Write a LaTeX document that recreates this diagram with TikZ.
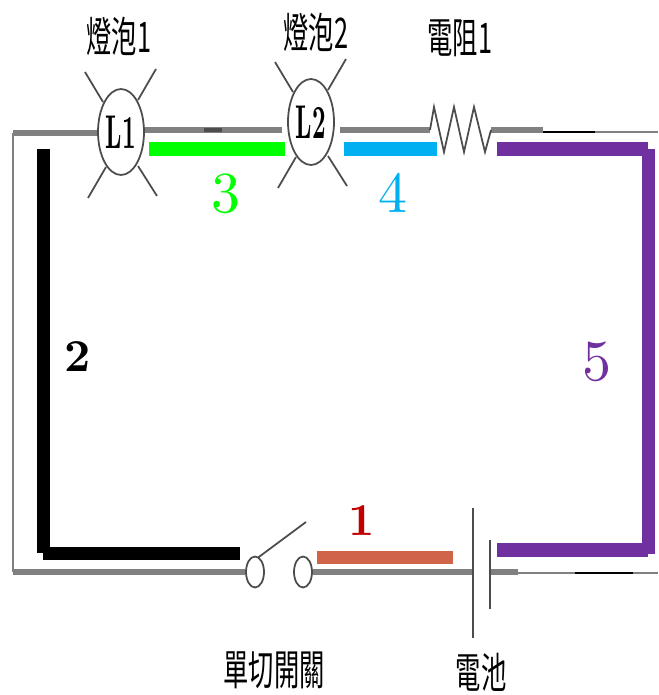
\documentclass[tikz,border=0pt]{standalone}
\usepackage{fontspec}
\usepackage{tikz}
\usetikzlibrary{%
	calc,%
	shapes.geometric
}
\newfontfamily\cjk{Noto Sans CJK TC}
\definecolor{seggreen}{HTML}{00FF00}
\definecolor{segblue}{HTML}{00B0F0}
\definecolor{segpurple}{HTML}{7030A0}
\definecolor{segorange}{HTML}{CF6449}
\definecolor{segred}{HTML}{C00000}
\tikzset{
	wire/.style={draw=black!50,line width=3.2pt},
	thinwire/.style={draw=black!50,line width=1.7pt},
	part/.style={draw=black!70,line width=1pt},
	seg/.style={line width=7.9pt},
	lamp/.style={ellipse,part,fill=white,minimum width=0.92cm,minimum height=1.72cm,inner sep=0pt,font=\fontsize{10}{10}\selectfont\bfseries},
	contact/.style={ellipse,part,fill=white,minimum width=0.36cm,minimum height=0.62cm,inner sep=0pt},
	cjklabel/.style={inner sep=0pt,xscale=.6,transform shape,font=\cjk\fontsize{24}{24}\selectfont},
	num/.style={inner sep=0pt,scale=3.3,transform shape,font=\fontsize{10}{10}\selectfont},
	boldnum/.style={inner sep=0pt,scale=2.6,transform shape,font=\fontsize{10}{10}\selectfont\bfseries}
}

\begin{document}
\begin{tikzpicture}[x=0.02cm,y=-0.02cm]
	\useasboundingbox (0,0) rectangle (658,695);

	% Wire corners and ends
	\coordinate (topleft) at (13,133);
	\coordinate (botleft) at (13,572);
	\coordinate (topright) at (658,132);
	\coordinate (botright) at (658,573);
	\coordinate (tapA) at (282,130);
	\coordinate (tapB) at (340,130);
	\coordinate (tapC) at (430,130);
	\coordinate (tapD) at (491,130);
	\coordinate (plateA) at (473,572);
	\coordinate (plateB) at (490,572);

	% Lamps and switch
	\node[lamp] (L1) at (121,132) {\scalebox{1.35}[2.7]{L1}};
	\node[lamp] (L2) at (311,122) {\scalebox{1.35}[2.7]{L2}};
	\node[contact] (sw1) at (255,572) {};
	\node[contact] (sw2) at (303,572) {};

	% Wires
	\draw[wire] (L1.west |- topleft) -- (topleft);
	\draw[thinwire] (topleft) -- (botleft);
	\draw[wire] (botleft) -- (sw1.west);
	\draw[wire] (L1.east |- tapA) -- (tapA);
	\draw[wire] (tapB) -- (tapC);
	\draw[wire] (sw2.east) -- (plateA);
	\draw[wire] (tapD) -- (543,130);
	\draw[thinwire] (543,132) -- (topright);
	\draw[wire] (plateB) -- (518,572);
	\draw[thinwire] (518,573) -- (botright);
	\draw[black,line width=1.1pt] (543,132) -- (595,132);
	\draw[black,line width=1.1pt] (575,573) -- (633,573);
	\draw[black!70,line width=2.8pt] (204,130) -- (222,130);

	% Lamp rays
	\foreach \lamp in {L1,L2}
	{
		\draw[part] ($(\lamp)+(-18,-30)$) -- ($(\lamp)+(-36,-60)$);
		\draw[part] ($(\lamp)+(17,-32)$) -- ($(\lamp)+(35,-63)$);
		\draw[part] ($(\lamp)+(-15,35)$) -- ($(\lamp)+(-33,66)$);
		\draw[part] ($(\lamp)+(17,34)$) -- ($(\lamp)+(36,64)$);
	}

	% Resistor
	\draw[part] (tapC) -- (434,107) -- (444,152) -- (454,107) -- (464,152) -- (474,107) -- (485,152) -- (tapD);

	% Switch arm
	\coordinate (armtip) at (306,522);
	\draw[part] (sw1.north) ++(3,2) -- (armtip);

	% Battery
	\draw[part] (473,508) -- (473,638);
	\draw[part] (490,540) -- (490,609);

	% Coloured segments
	\draw[seg,segorange] (317,557.5) -- (453,557.5);
	\draw[seg,black] (43.5,149) -- (43.5,553);
	\draw[seg,black] (43,553.5) -- (240,553.5);
	\draw[seg,seggreen] (149,149) -- (285,149);
	\draw[seg,segblue] (344,149) -- (437,149);
	\draw[seg,segpurple] (497,149) -- (648,149);
	\draw[seg,segpurple] (648.5,149) -- (648.5,554);
	\draw[seg,segpurple] (497,550) -- (648,550);

	% Numbers
	\node[boldnum,segred] (n1) at (362,521) {1};
	\node[boldnum,black] (n2) at (78,357) {2};
	\node[num,seggreen] (n3) at (226,194) {3};
	\node[num,segblue] (n4) at (393,193) {4};
	\node[num,segpurple] (n5) at (597,362) {5};

	% Labels
	\node[cjklabel] (lamplabelA) at (119,36) {燈泡1};
	\node[cjklabel] (lamplabelB) at (316,32) {燈泡2};
	\node[cjklabel] (reslabel) at (460,38) {電阻1};
	\node[cjklabel] (swlabel) at (274,670) {單切開關};
	\node[cjklabel] (batlabel) at (481,672) {電池};
\end{tikzpicture}
\end{document}
